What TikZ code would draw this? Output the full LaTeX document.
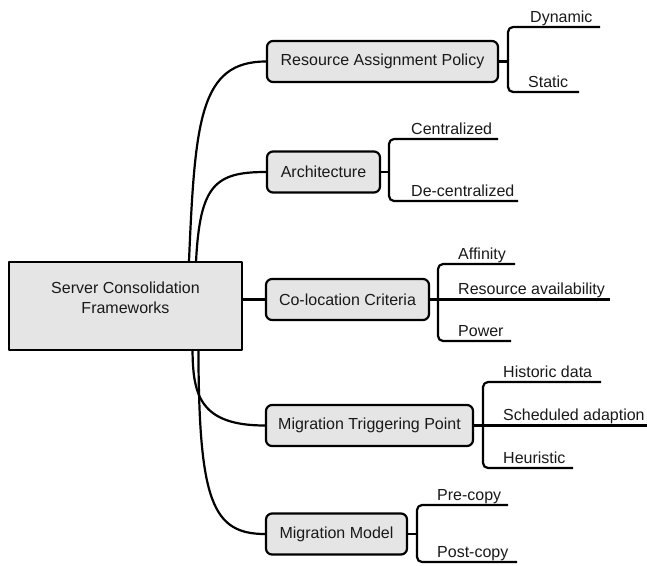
\documentclass[tikz,border=0pt]{standalone}
\usepackage{fontspec}
\setmainfont{Liberation Sans}
\usetikzlibrary{positioning,calc}

\begin{document}
\begin{tikzpicture}[x=1pt, y=-1pt, line join=round,
  box/.style={draw, line width=2.2pt, fill=black!10, rounded corners=6pt,
    minimum height=41pt, inner sep=0pt, text=black!90,
    font=\fontsize{16}{20}\selectfont},
  rootbox/.style={box, rounded corners=0pt, minimum width=233pt,
    minimum height=88pt},
  branch/.style={line width=2.2pt},
  leaf/.style={anchor=base west, inner sep=0pt, text=black!90,
    font=\fontsize{16}{20}\selectfont}]
\useasboundingbox (0,0) rectangle (647,565);

\node[rootbox] (sc) at (125.5,306) {};
\node[align=center, inner sep=0pt, text=black!90, font=\fontsize{16}{20}\selectfont]
  (sct) at ($(sc.center)+(0,-8)$) {Server Consolidation\\Frameworks};
\node[box, minimum width=231pt] (rap) at (382.5,61.5) {Resource Assignment Policy};
\node[box, minimum width=113pt] (arc) at (323.5,172) {Architecture};
\node[box, minimum width=163pt] (clc) at (347.5,299.5) {Co-location Criteria};
\node[box, minimum width=207pt] (mtp) at (369.5,425.5) {Migration Triggering Point};
\node[box, minimum width=141pt] (mm) at (336.5,534) {Migration Model};

% trunk
\draw[branch] ($(sc.north west)!0.77!(sc.north east)$) .. controls (195,120) and (200,61.5) .. (rap.west);
\draw[branch] ($(sc.north west)!0.80!(sc.north east)$) .. controls (200,185) and (215,172) .. (arc.west);
\draw[branch] (sc.east |- clc.west) -- (clc.west);
\draw[branch] ($(sc.south west)!0.785!(sc.south east)$) .. controls (193,395) and (200,425.5) .. (mtp.west);
\draw[branch] ($(sc.south west)!0.81!(sc.south east)$) .. controls (199,500) and (212,534) .. (mm.west);

% Resource Assignment Policy
\coordinate (rapB) at (508,61.5);
\coordinate (dynE) at (600,27);
\coordinate (staE) at (579,92);
\draw[branch] (rap.east) -- (rapB);
\draw[branch, rounded corners=5pt] (dynE) -- (dynE -| rapB) -- (staE -| rapB) -- (staE);
\node[leaf] (dyn) at ($(dynE -| rapB)+(22,-5)$) {Dynamic};
\node[leaf] (sta) at ($(staE -| rapB)+(20,-5)$) {Static};

% Architecture
\coordinate (arcB) at (389,172);
\coordinate (cenE) at (498,139);
\coordinate (decE) at (518,201);
\draw[branch] (arc.east) -- (arcB);
\draw[branch, rounded corners=5pt] (cenE) -- (cenE -| arcB) -- (decE -| arcB) -- (decE);
\node[leaf] (cen) at ($(cenE -| arcB)+(22,-5)$) {Centralized};
\node[leaf] (dec) at ($(decE -| arcB)+(22,-5)$) {De-centralized};

% Co-location Criteria
\coordinate (clcB) at (438,299.5);
\coordinate (affE) at (515,264);
\coordinate (avaE) at (610,299.5);
\coordinate (powE) at (511,341);
\draw[branch] (clc.east) -- (avaE);
\draw[branch, rounded corners=5pt] (affE) -- (affE -| clcB) -- (powE -| clcB) -- (powE);
\node[leaf] (aff) at ($(affE -| clcB)+(20,-5)$) {Affinity};
\node[leaf] (ava) at ($(clcB)+(20,-5)$) {Resource availability};
\node[leaf] (pow) at ($(powE -| clcB)+(20,-5)$) {Power};

% Migration Triggering Point
\coordinate (mtpB) at (483,425.5);
\coordinate (hisE) at (601,382);
\coordinate (schE) at (647,425.5);
\coordinate (heuE) at (573,468);
\draw[branch] (mtp.east) -- (schE);
\draw[branch, rounded corners=5pt] (hisE) -- (hisE -| mtpB) -- (heuE -| mtpB) -- (heuE);
\node[leaf] (his) at ($(hisE -| mtpB)+(20,-5)$) {Historic data};
\node[leaf] (sch) at ($(mtpB)+(20,-5)$) {Scheduled adaption};
\node[leaf] (heu) at ($(heuE -| mtpB)+(20,-5)$) {Heuristic};

% Migration Model
\coordinate (mmB) at (417,534);
\coordinate (preE) at (508,505);
\coordinate (posE) at (517,562);
\draw[branch] (mm.east) -- (mmB);
\draw[branch, rounded corners=5pt] (preE) -- (preE -| mmB) -- (posE -| mmB) -- (posE);
\node[leaf] (pre) at ($(preE -| mmB)+(20,-5)$) {Pre-copy};
\node[leaf] (pos) at ($(posE -| mmB)+(20,-5)$) {Post-copy};
\end{tikzpicture}
\end{document}
